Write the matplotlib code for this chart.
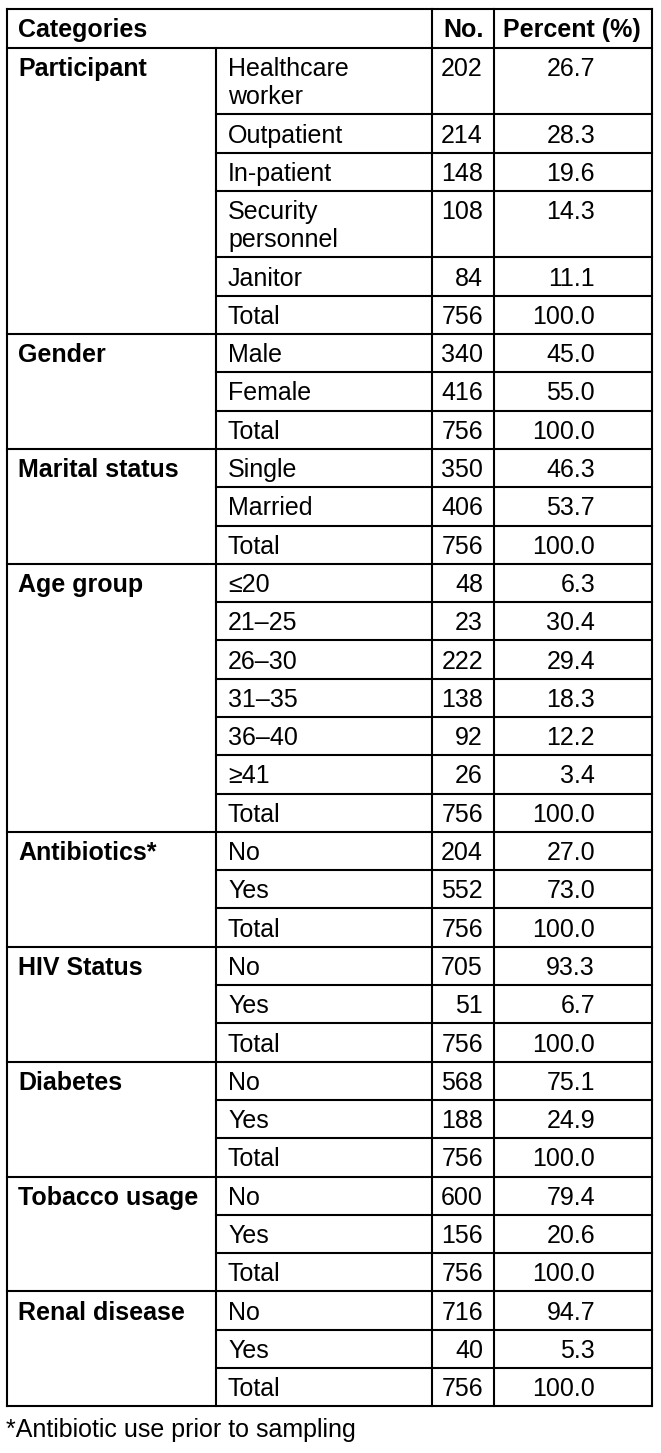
import matplotlib
matplotlib.use("Agg")
import matplotlib.pyplot as plt

# ---- data ----
group_names = ["Participant", "Gender", "Marital status", "Age group", "Antibiotics*",
               "HIV Status", "Diabetes", "Tobacco usage", "Renal disease"]
group_row_counts = [6, 3, 3, 7, 3, 3, 3, 3, 3]
sub_labels = ["Healthcare\nworker", "Outpatient", "In-patient", "Security\npersonnel", "Janitor", "Total",
              "Male", "Female", "Total",
              "Single", "Married", "Total",
              "≤20", "21–25", "26–30", "31–35", "36–40", "≥41", "Total",
              "No", "Yes", "Total",
              "No", "Yes", "Total",
              "No", "Yes", "Total",
              "No", "Yes", "Total",
              "No", "Yes", "Total"]
counts = [202, 214, 148, 108, 84, 756,
          340, 416, 756,
          350, 406, 756,
          48, 23, 222, 138, 92, 26, 756,
          204, 552, 756,
          705, 51, 756,
          568, 188, 756,
          600, 156, 756,
          716, 40, 756]
percents = [26.7, 28.3, 19.6, 14.3, 11.1, 100.0,
            45.0, 55.0, 100.0,
            46.3, 53.7, 100.0,
            6.3, 30.4, 29.4, 18.3, 12.2, 3.4, 100.0,
            27.0, 73.0, 100.0,
            93.3, 6.7, 100.0,
            75.1, 24.9, 100.0,
            79.4, 20.6, 100.0,
            94.7, 5.3, 100.0]
header_labels = ["Categories", "No.", "Percent (%)"]
footnote = "*Antibiotic use prior to sampling"

# ---- layout (pixels) ----
W, H = 661, 1453
fig = plt.figure(figsize=(W / 100, H / 100), dpi=100)
ax = fig.add_axes([0, 0, 1, 1])
ax.set_xlim(0, W)
ax.set_ylim(H, 0)
ax.axis("off")

fam = ["Liberation Sans", "DejaVu Sans"]
fs = 18
lw = 1.5
col_x = [7, 216, 432, 494, 652]
top = 9
header_bottom = 48
pad = 10.2
line_h = 28.1
base_off = 28.2  # from row top to first baseline

def line(x0, x1, y0, y1):
    ax.plot([x0, x1], [y0, y1], color="black", lw=lw, solid_capstyle="projecting")

def put(x, y_top, s, ha="left", bold=False):
    for k, part in enumerate(s.split("\n")):
        ax.text(x, y_top + base_off + k * line_h, part, ha=ha, va="baseline",
                fontsize=fs, family=fam, fontweight="bold" if bold else "normal")

# header
put(col_x[0] + 11, top, header_labels[0], bold=True)
put((col_x[2] + col_x[3]) / 2 + 1, top, header_labels[1], ha="center", bold=True)
put((col_x[3] + col_x[4]) / 2 - 1, top, header_labels[2], ha="center", bold=True)
line(col_x[0], col_x[4], top, top)
line(col_x[0], col_x[4], header_bottom, header_bottom)

# body rows
y = header_bottom
r = 0
for g, n in zip(group_names, group_row_counts):
    g_top = y
    put(col_x[0] + 11, g_top, g, bold=True)
    for j in range(n):
        lab = sub_labels[r]
        nlines = lab.count("\n") + 1
        h = pad + line_h * nlines
        put(col_x[1] + 12, y, lab)
        put(col_x[3] - 11, y, str(counts[r]), ha="right")
        put(595, y, f"{percents[r]:.1f}", ha="right")
        y += h
        if j < n - 1:
            line(col_x[1], col_x[4], y, y)
        r += 1
    line(col_x[0], col_x[4], y, y)

bottom = y
# vertical lines
line(col_x[0], col_x[0], top, bottom)
line(col_x[1], col_x[1], header_bottom, bottom)
line(col_x[2], col_x[2], top, bottom)
line(col_x[3], col_x[3], top, bottom)
line(col_x[4], col_x[4], top, bottom)

ax.text(6, bottom + 30.5, footnote, ha="left", va="baseline", fontsize=fs, family=fam)

fig.savefig("out.png", dpi=100)
